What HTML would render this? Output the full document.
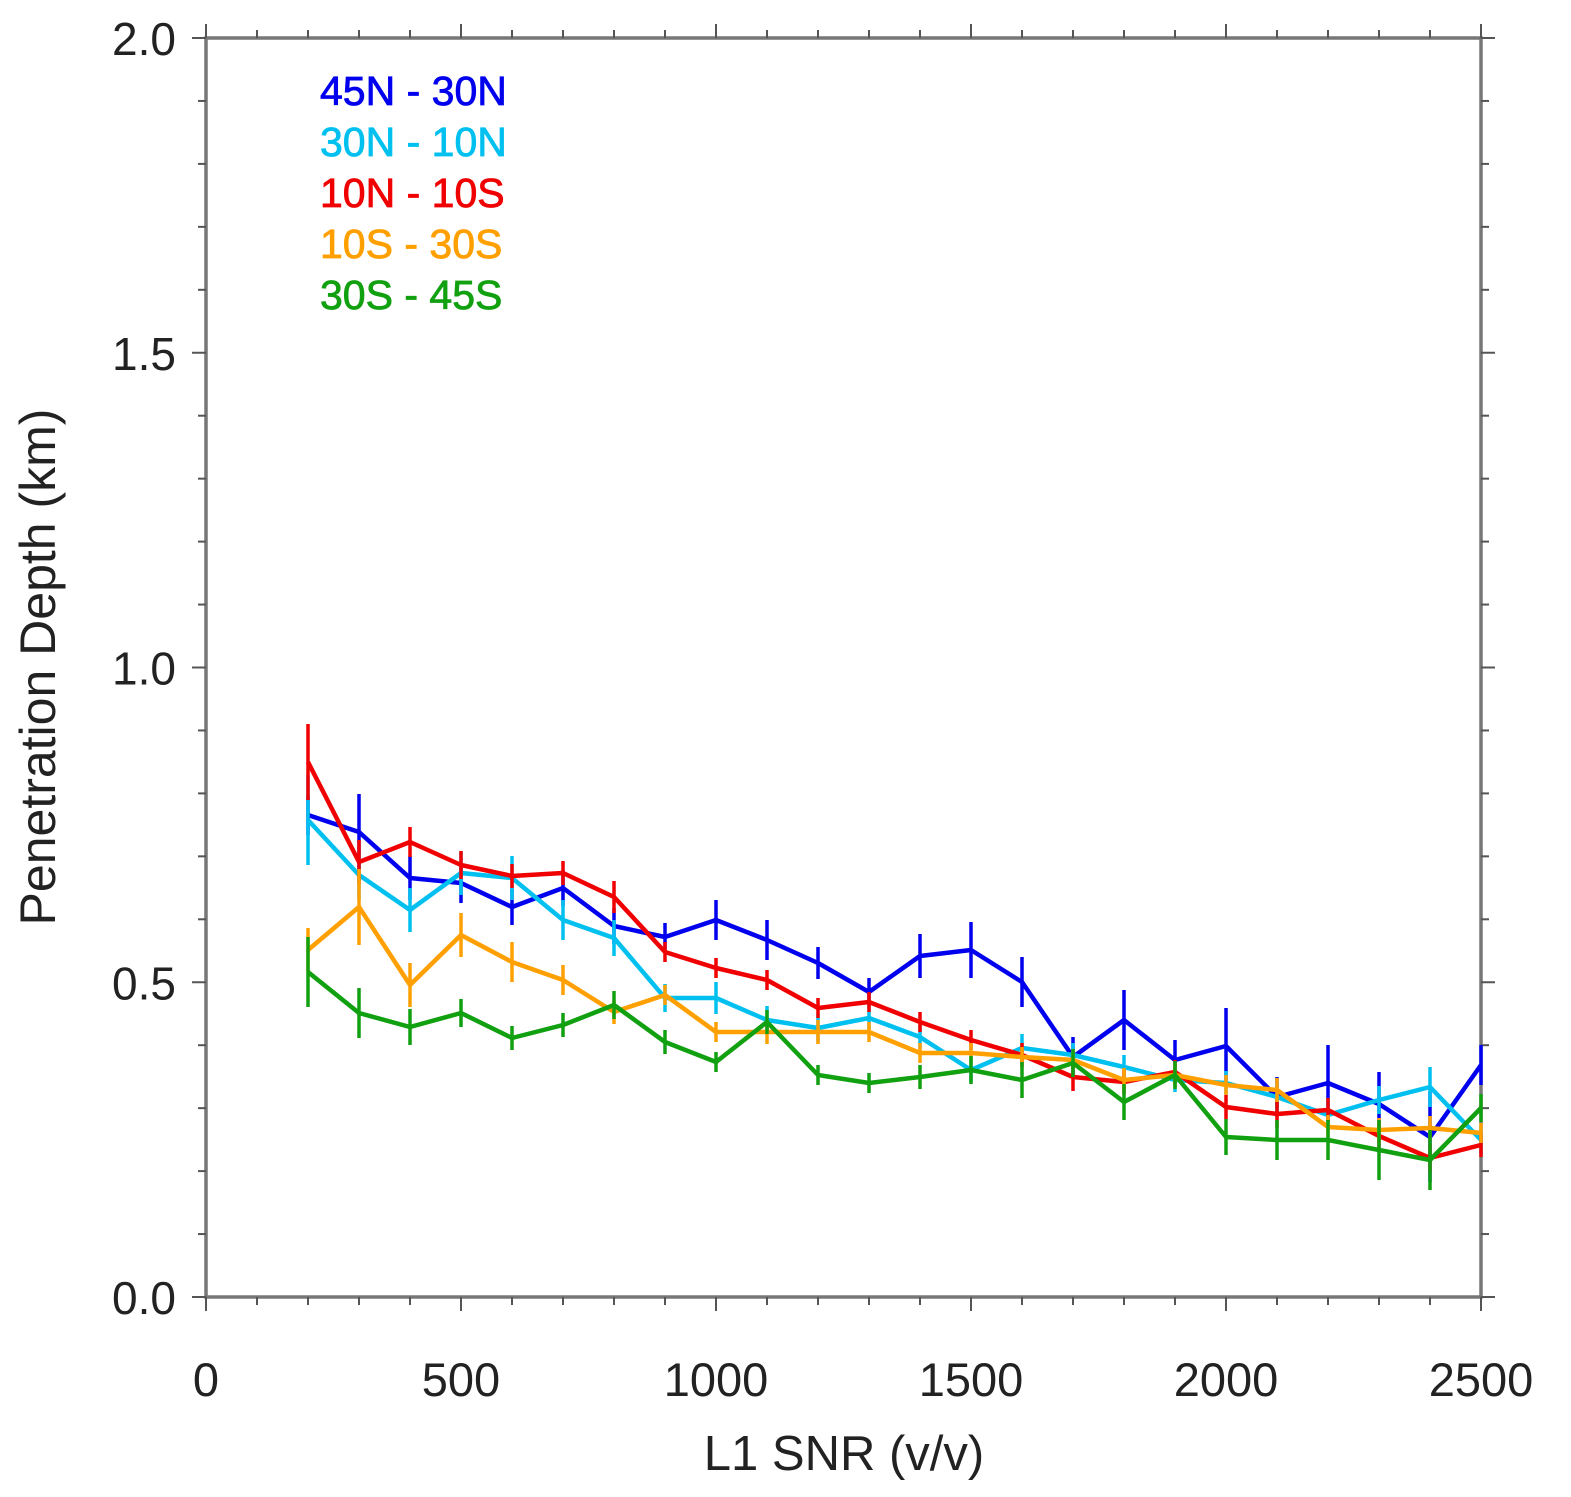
<!DOCTYPE html><html><head><style>body{margin:0;background:#fff}</style></head><body>
<svg id="s" width="1571" height="1492" xmlns="http://www.w3.org/2000/svg" font-family="Liberation Sans, sans-serif"></svg>
<script>
const s=document.getElementById('s');let h='';
const X=v=>206+0.51*v, Y=v=>1297-629.5*v;
h+='<rect x="206" y="38" width="1275" height="1259" fill="none" stroke="#777" stroke-width="3.5"/>';
for(let v=0;v<=2500;v+=100){const x=X(v),L=v%500==0?14:8;h+=`<line x1="${x}" y1="1297" x2="${x}" y2="${1297+L}" stroke="#555" stroke-width="2"/><line x1="${x}" y1="38" x2="${x}" y2="${38-L}" stroke="#555" stroke-width="2"/>`;
if(v%500==0)h+=`<text x="${x}" y="1396" font-size="47" text-anchor="middle" fill="#222">${v}</text>`;}
for(let i=0;i<=20;i++){const y=Y(i/10),L=i%5==0?14:8;h+=`<line x1="206" y1="${y}" x2="${206-L}" y2="${y}" stroke="#555" stroke-width="2"/><line x1="1481" y1="${y}" x2="${1481+L}" y2="${y}" stroke="#555" stroke-width="2"/>`;
if(i%5==0)h+=`<text x="176" y="${y+17}" font-size="46" text-anchor="end" fill="#222">${(i/10).toFixed(1)}</text>`;}
h+='<text x="844" y="1470" font-size="49" text-anchor="middle" fill="#222">L1 SNR (v/v)</text>';
h+='<text transform="translate(55,667) rotate(-90)" font-size="50" text-anchor="middle" fill="#222">Penetration Depth (km)</text>';
const D=[
['#0000ee',[815,832,878,883,907,888,926,937,920,940,963,992,956,950,982,1057,1020,1060,1046,1097,1083,1104,1137,1065],[20,38,22,20,18,18,18,14,20,20,16,14,22,28,25,20,30,20,38,20,38,32,45,20]],
['#00c0f0',[820,875,910,873,878,920,938,998,998,1020,1028,1018,1037,1070,1048,1055,1067,1080,1083,1097,1115,1100,1087,1140],[45,25,22,22,22,20,18,14,16,14,14,12,12,12,14,12,12,12,12,14,14,14,20,14]],
['#f00000',[762,862,842,865,876,873,897,952,968,980,1008,1002,1022,1040,1055,1077,1082,1072,1107,1114,1110,1136,1158,1145],[38,22,15,14,12,12,16,10,10,10,10,10,10,10,12,14,12,12,12,14,12,14,14,12]],
['#ffa000',[950,907,985,935,962,980,1012,995,1032,1032,1032,1032,1053,1053,1057,1060,1080,1075,1085,1090,1127,1130,1128,1133],[22,38,22,22,20,15,12,10,10,12,12,10,10,10,10,10,12,12,10,12,12,12,12,10]],
['#10a010',[972,1013,1027,1013,1038,1025,1005,1042,1062,1022,1075,1083,1077,1070,1080,1063,1102,1075,1137,1140,1140,1150,1160,1108],[35,25,18,14,12,12,14,12,10,12,10,10,12,14,18,14,18,14,18,20,20,30,30,14]]];
for(const [c,ys,es] of D){let p=ys.map((y,i)=>X(200+100*i)+','+y).join(' ');h+=`<polyline points="${p}" fill="none" stroke="${c}" stroke-width="4.5" stroke-linejoin="round"/>`;
ys.forEach((y,i)=>{const x=X(200+100*i);h+=`<line x1="${x}" y1="${y-es[i]}" x2="${x}" y2="${y+es[i]}" stroke="${c}" stroke-width="3.5"/>`;});}
const Lg=[['45N - 30N','#0000ee'],['30N - 10N','#00c0f0'],['10N - 10S','#f00000'],['10S - 30S','#ffa000'],['30S - 45S','#10a010']];
Lg.forEach((l,i)=>h+=`<text x="320" y="${105+i*51}" font-size="41" fill="${l[1]}" stroke="${l[1]}" stroke-width="0.8">${l[0]}</text>`);
s.innerHTML=h;
</script></body></html>
